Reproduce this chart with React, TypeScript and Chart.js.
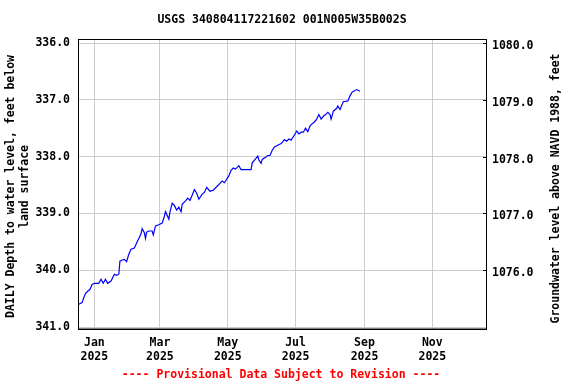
import React, { useEffect, useRef } from "react";
import { Chart, registerables } from "chart.js";

Chart.register(...registerables);

// Days since 2025-01-01
const days = [-14,-11,-10,-8,-6,-4,-2,0,4,6,8,10,12,15,18,20,22,23,25,27,29,31,33,36,39,42,43,45,46,47,49,52,53,55,58,61,63,64,67,68,70,72,74,76,78,79,82,84,86,88,90,92,94,97,99,101,104,107,110,113,115,117,120,121,123,125,127,130,132,137,141,142,145,147,148,150,151,154,156,158,160,162,165,168,171,173,175,177,180,182,184,186,188,190,192,194,196,198,200,202,204,206,208,210,212,213,215,218,219,221,224,226,228,230,232,234,236,239];
// Depth to water level, feet below land surface
const depths = [340.60,340.57,340.51,340.41,340.37,340.34,340.25,340.23,340.23,340.16,340.23,340.16,340.23,340.19,340.07,340.09,340.07,339.84,339.82,339.81,339.85,339.72,339.63,339.61,339.48,339.36,339.27,339.34,339.44,339.33,339.31,339.31,339.38,339.22,339.20,339.17,339.05,338.97,339.10,338.98,338.82,338.86,338.94,338.89,338.97,338.84,338.78,338.73,338.77,338.68,338.58,338.64,338.75,338.66,338.63,338.54,338.61,338.59,338.53,338.47,338.43,338.46,338.37,338.34,338.24,338.20,338.22,338.16,338.23,338.23,338.23,338.11,338.04,337.99,338.06,338.12,338.05,338.01,337.98,337.98,337.89,337.83,337.80,337.77,337.70,337.73,337.69,337.71,337.62,337.55,337.60,337.57,337.57,337.50,337.56,337.46,337.42,337.39,337.34,337.26,337.34,337.29,337.26,337.22,337.26,337.34,337.20,337.15,337.11,337.17,337.03,337.03,337.02,336.93,336.86,336.84,336.82,336.85];

const monthTickDays = [0, 59, 120, 181, 243, 304];
const monthTickNames = ["Jan", "Mar", "May", "Jul", "Sep", "Nov"];
const monthTickYear = "2025";
const leftTicks = [336, 337, 338, 339, 340, 341];
const rightTicks = [1076, 1077, 1078, 1079, 1080];
const datumOffset = 1416; // elevation = datumOffset - depth

const title = "USGS 340804117221602 001N005W35B002S";
const leftTitle = ["DAILY Depth to water level, feet below", "land surface"];
const rightTitle = "Groundwater level above NAVD 1988, feet";
const footer = "---- Provisional Data Subject to Revision ----";

const FONT_FAMILY = "'DejaVu Sans Mono', 'Liberation Mono', monospace";
const FONT_SIZE = 11.5;

export default function App() {
  const ref = useRef<HTMLCanvasElement | null>(null);

  useEffect(() => {
    if (!ref.current) return;
    const leftMin = 335.947;
    const leftMax = 341.035;

    const textPlugin = {
      id: "textPlugin",
      afterDraw(chart: any) {
        const ctx = chart.ctx as CanvasRenderingContext2D;
        const a = chart.chartArea;
        ctx.save();
        ctx.strokeStyle = "#000";
        ctx.lineWidth = 1;
        ctx.strokeRect(Math.round(a.left) + 0.5, Math.round(a.top) - 0.5, Math.round(a.right - a.left), Math.round(a.bottom - a.top) + 0.5);
        // small inward tick marks on the right axis
        const y2 = chart.scales.y2;
        ctx.beginPath();
        rightTicks.forEach((v) => {
          const py = Math.round(y2.getPixelForValue(v)) + 0.5;
          ctx.moveTo(a.right - 3, py);
          ctx.lineTo(a.right, py);
        });
        ctx.stroke();
        ctx.font = `bold ${FONT_SIZE}px ${FONT_FAMILY}`;
        ctx.textAlign = "center";
        ctx.textBaseline = "middle";
        ctx.fillStyle = "#000";
        const cx = (a.left + a.right) / 2;
        ctx.fillText(title, cx, 20);
        ctx.fillStyle = "#ff0000";
        ctx.fillText(footer, cx - 1, 375);
        ctx.fillStyle = "#000";
        const cy = (a.top + a.bottom) / 2 + 2;
        ctx.save();
        ctx.translate(11.5, cy);
        ctx.rotate(-Math.PI / 2);
        ctx.fillText(leftTitle[0], 0, 0);
        ctx.fillText(leftTitle[1], 0, 13.3);
        ctx.restore();
        ctx.save();
        ctx.translate(556, cy + 2);
        ctx.rotate(-Math.PI / 2);
        ctx.fillText(rightTitle, 0, 0);
        ctx.restore();
        ctx.restore();
      },
    };

    const chart = new Chart(ref.current, {
      type: "line",
      data: {
        datasets: [
          {
            data: days.map((d, i) => ({ x: d, y: depths[i] })),
            borderColor: "#0000ff",
            borderWidth: 1.2,
            pointRadius: 0,
            tension: 0,
            fill: false,
            yAxisID: "y",
            xAxisID: "x",
          },
        ],
      },
      options: {
        animation: false,
        responsive: false,
        layout: { padding: { top: 40, left: 0, right: 0, bottom: 0 } },
        plugins: {
          legend: { display: false },
          tooltip: { enabled: false },
          title: { display: false },
        },
        scales: {
          x: {
            type: "linear",
            position: "bottom",
            min: -14.7,
            max: 352.3,
            afterBuildTicks: (s: any) => {
              s.ticks = monthTickDays.map((v) => ({ value: v }));
            },
            afterFit: (s: any) => {
              s.height = 55;
            },
            grid: { color: "#cccccc", lineWidth: 1, drawTicks: false },
            border: { display: true, color: "#000" },
            ticks: {
              autoSkip: false,
              maxRotation: 0,
              padding: 7,
              color: "#000",
              font: { family: FONT_FAMILY, size: FONT_SIZE, weight: "bold", lineHeight: 1.2 },
              callback: (v: any) => {
                const idx = monthTickDays.indexOf(Number(v));
                return [monthTickNames[idx] ?? "", monthTickYear];
              },
            },
          },
          y: {
            type: "linear",
            position: "left",
            reverse: true,
            min: leftMin,
            max: leftMax,
            afterBuildTicks: (s: any) => {
              s.ticks = leftTicks.map((v) => ({ value: v }));
            },
            afterFit: (s: any) => {
              s.width = 78;
            },
            grid: { color: "#cccccc", lineWidth: 1, drawTicks: false },
            border: { display: true, color: "#000" },
            ticks: {
              padding: 8,
              color: "#000",
              font: { family: FONT_FAMILY, size: FONT_SIZE, weight: "bold" },
              callback: (v: any) => Number(v).toFixed(1),
            },
          },
          y2: {
            type: "linear",
            position: "right",
            min: datumOffset - leftMax,
            max: datumOffset - leftMin,
            afterBuildTicks: (s: any) => {
              s.ticks = rightTicks.map((v) => ({ value: v }));
            },
            afterFit: (s: any) => {
              s.width = 90;
            },
            grid: { drawOnChartArea: false, drawTicks: false },
            border: { display: true, color: "#000" },
            ticks: {
              padding: 6,
              labelOffset: 3,
              color: "#000",
              font: { family: FONT_FAMILY, size: FONT_SIZE, weight: "bold" },
              callback: (v: any) => Number(v).toFixed(1),
            },
          },
        },
      },
      plugins: [textPlugin],
    });
    return () => chart.destroy();
  }, []);

  return (
    <div style={{ position: "absolute", left: 0, top: 0, width: 576, height: 384, background: "#fff" }}>
      <canvas ref={ref} width={576} height={384} style={{ display: "block" }} />
    </div>
  );
}
